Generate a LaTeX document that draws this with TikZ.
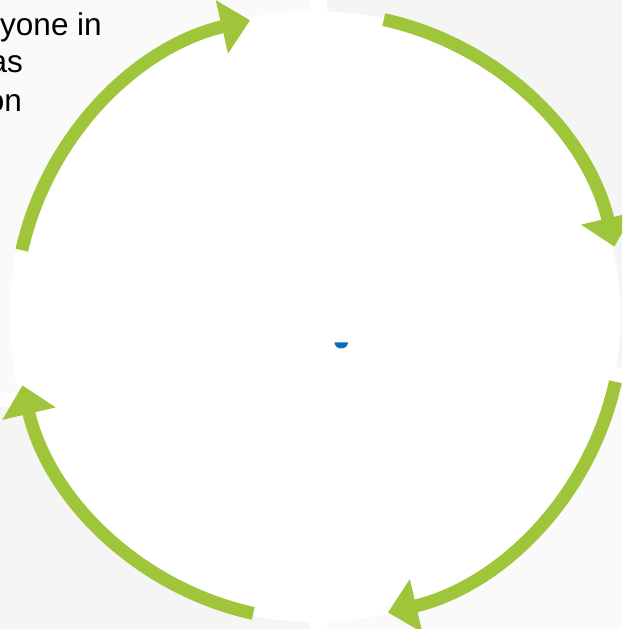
\documentclass[tikz,border=0pt]{standalone}
\usepackage{fontspec}
\setmainfont{Liberation Sans}
\usetikzlibrary{arrows.meta}
\definecolor{arrgreen}{RGB}{159,197,58}
\definecolor{panelA}{RGB}{250,250,250}
\definecolor{panelB}{RGB}{245,245,245}
\definecolor{dotblue}{RGB}{10,110,190}
\tikzset{
  cyclearrow/.style={draw=arrgreen, line width=13pt,
    -{Triangle[length=29pt,width=53pt]}},
  fragtext/.style={anchor=base east, inner sep=0pt, font=\fontsize{31.5}{37}\selectfont, text=black}
}
\begin{document}
\begin{tikzpicture}[x=1pt,y=1pt]
\useasboundingbox (0,0) rectangle (622,629);
\clip (0,0) rectangle (622,629);
\fill[white] (0,0) rectangle (622,629);
% panels
\fill[panelA] (0,236) rectangle (310,629);
\fill[panelB] (327,261) rectangle (622,629);
\fill[panelB] (0,0) rectangle (310,222);
\fill[panelA] (327,0) rectangle (622,247);
% white disc
\coordinate (disc) at (315,312.5);
\fill[white] (disc) circle[radius=305.5];
% text fragments
\node[fragtext] (t1) at (102,593) {yone in};
\node[fragtext] (t2) at (23,556) {as};
\node[fragtext] (t3) at (22,517) {on};
% arrows
\coordinate (c) at (318.5,312.5);
\draw[cyclearrow] ([shift={(c)}]167.4:304) arc[start angle=167.4, end angle=103, radius=304];
\draw[cyclearrow] ([shift={(c)}]77.6:304) arc[start angle=77.6, end angle=13.3, radius=304];
\draw[cyclearrow] ([shift={(c)}]-12.4:304) arc[start angle=-12.4, end angle=-76.8, radius=304];
\draw[cyclearrow] ([shift={(c)}]-102.4:304) arc[start angle=-102.4, end angle=-166.9, radius=304];
% blue mark
\fill[dotblue] (348,286.5) arc[start angle=0, end angle=-180, x radius=6.75, y radius=6] -- cycle;
\end{tikzpicture}
\end{document}
